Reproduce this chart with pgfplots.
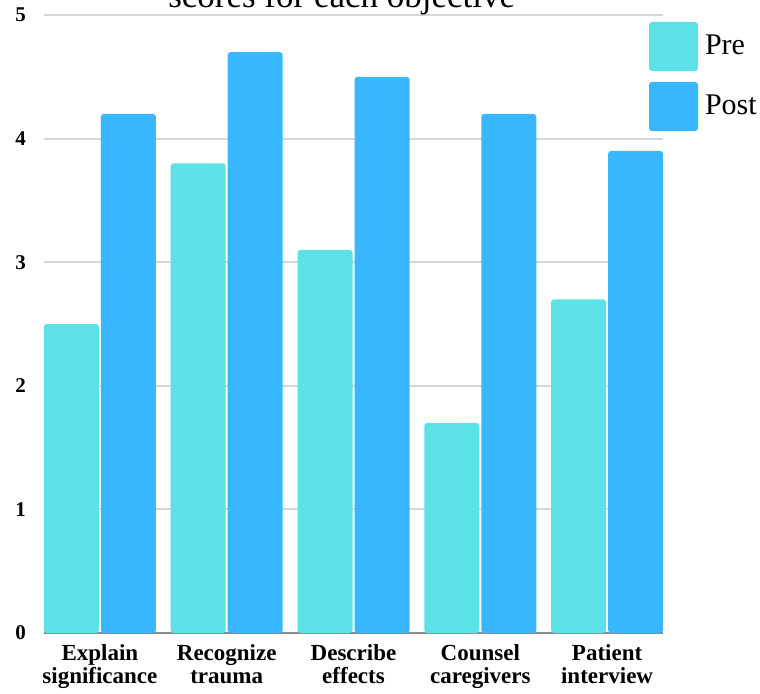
\documentclass[border=0pt]{standalone}
\usepackage{pgfplots}
\pgfplotsset{compat=1.18}
\usepackage{fontspec}
\setmainfont{Liberation Serif}
\definecolor{pre}{HTML}{5CE1E6}
\definecolor{post}{HTML}{38B6FF}
\definecolor{gridc}{HTML}{D6D6D6}
\begin{document}
\begin{tikzpicture}
\path[use as bounding box, clip] (-22pt,-30pt) rectangle (358pt,316.5pt);
\begin{axis}[
  at={(0,0)}, anchor=south west,
  scale only axis, width=309.5pt, height=309pt,
  ybar=1pt, bar width=27.5pt,
  xmin=-0.441, xmax=4.441, ymin=0, ymax=5,
  xtick={0,1,2,3,4},
  xticklabels={{Explain\\significance},{Recognize\\trauma},{Describe\\effects},{Counsel\\caregivers},{Patient\\interview}},
  xticklabel style={align=center, font=\fontsize{11.5}{11.5}\selectfont\bfseries, yshift=-2pt},
  ytick={1,2,3,4,5},
  extra y ticks={0},
  extra y tick style={grid style={draw=black!45, line width=1pt}},
  yticklabel style={font=\fontsize{10.5}{12}\selectfont\bfseries, xshift=-5.5pt},
  /pgf/number format/assume math mode=true,
  ymajorgrids,
  grid style={draw=gridc, line width=1pt},
  axis line style={draw=none},
  major tick length=0pt,
  title={scores for each objective},
  title style={font=\fontsize{17.5}{20}\selectfont, at={(0.481,1)}, anchor=base, yshift=-2pt},
  legend style={at={(0.9774,0.9887)}, anchor=north west, draw=none, fill=none,
    inner sep=0pt, outer sep=0pt, row sep=5.5pt, column sep=3.5pt,
    nodes={inner sep=0pt}, font=\fontsize{15}{18}\selectfont},
  legend cell align=left,
]
\addplot[fill=pre, draw=none, rounded corners=1.5pt,
  legend image code/.code={\fill[pre] (0pt,-12.25pt) rectangle (24.5pt,12.25pt);}]
  coordinates {(0,2.5) (1,3.8) (2,3.1) (3,1.7) (4,2.7)};
\addplot[fill=post, draw=none, rounded corners=1.5pt,
  legend image code/.code={\fill[post] (0pt,-12.25pt) rectangle (24.5pt,12.25pt);}]
  coordinates {(0,4.2) (1,4.7) (2,4.5) (3,4.2) (4,3.9)};
\legend{Pre,Post}
\end{axis}
\end{tikzpicture}
\end{document}
